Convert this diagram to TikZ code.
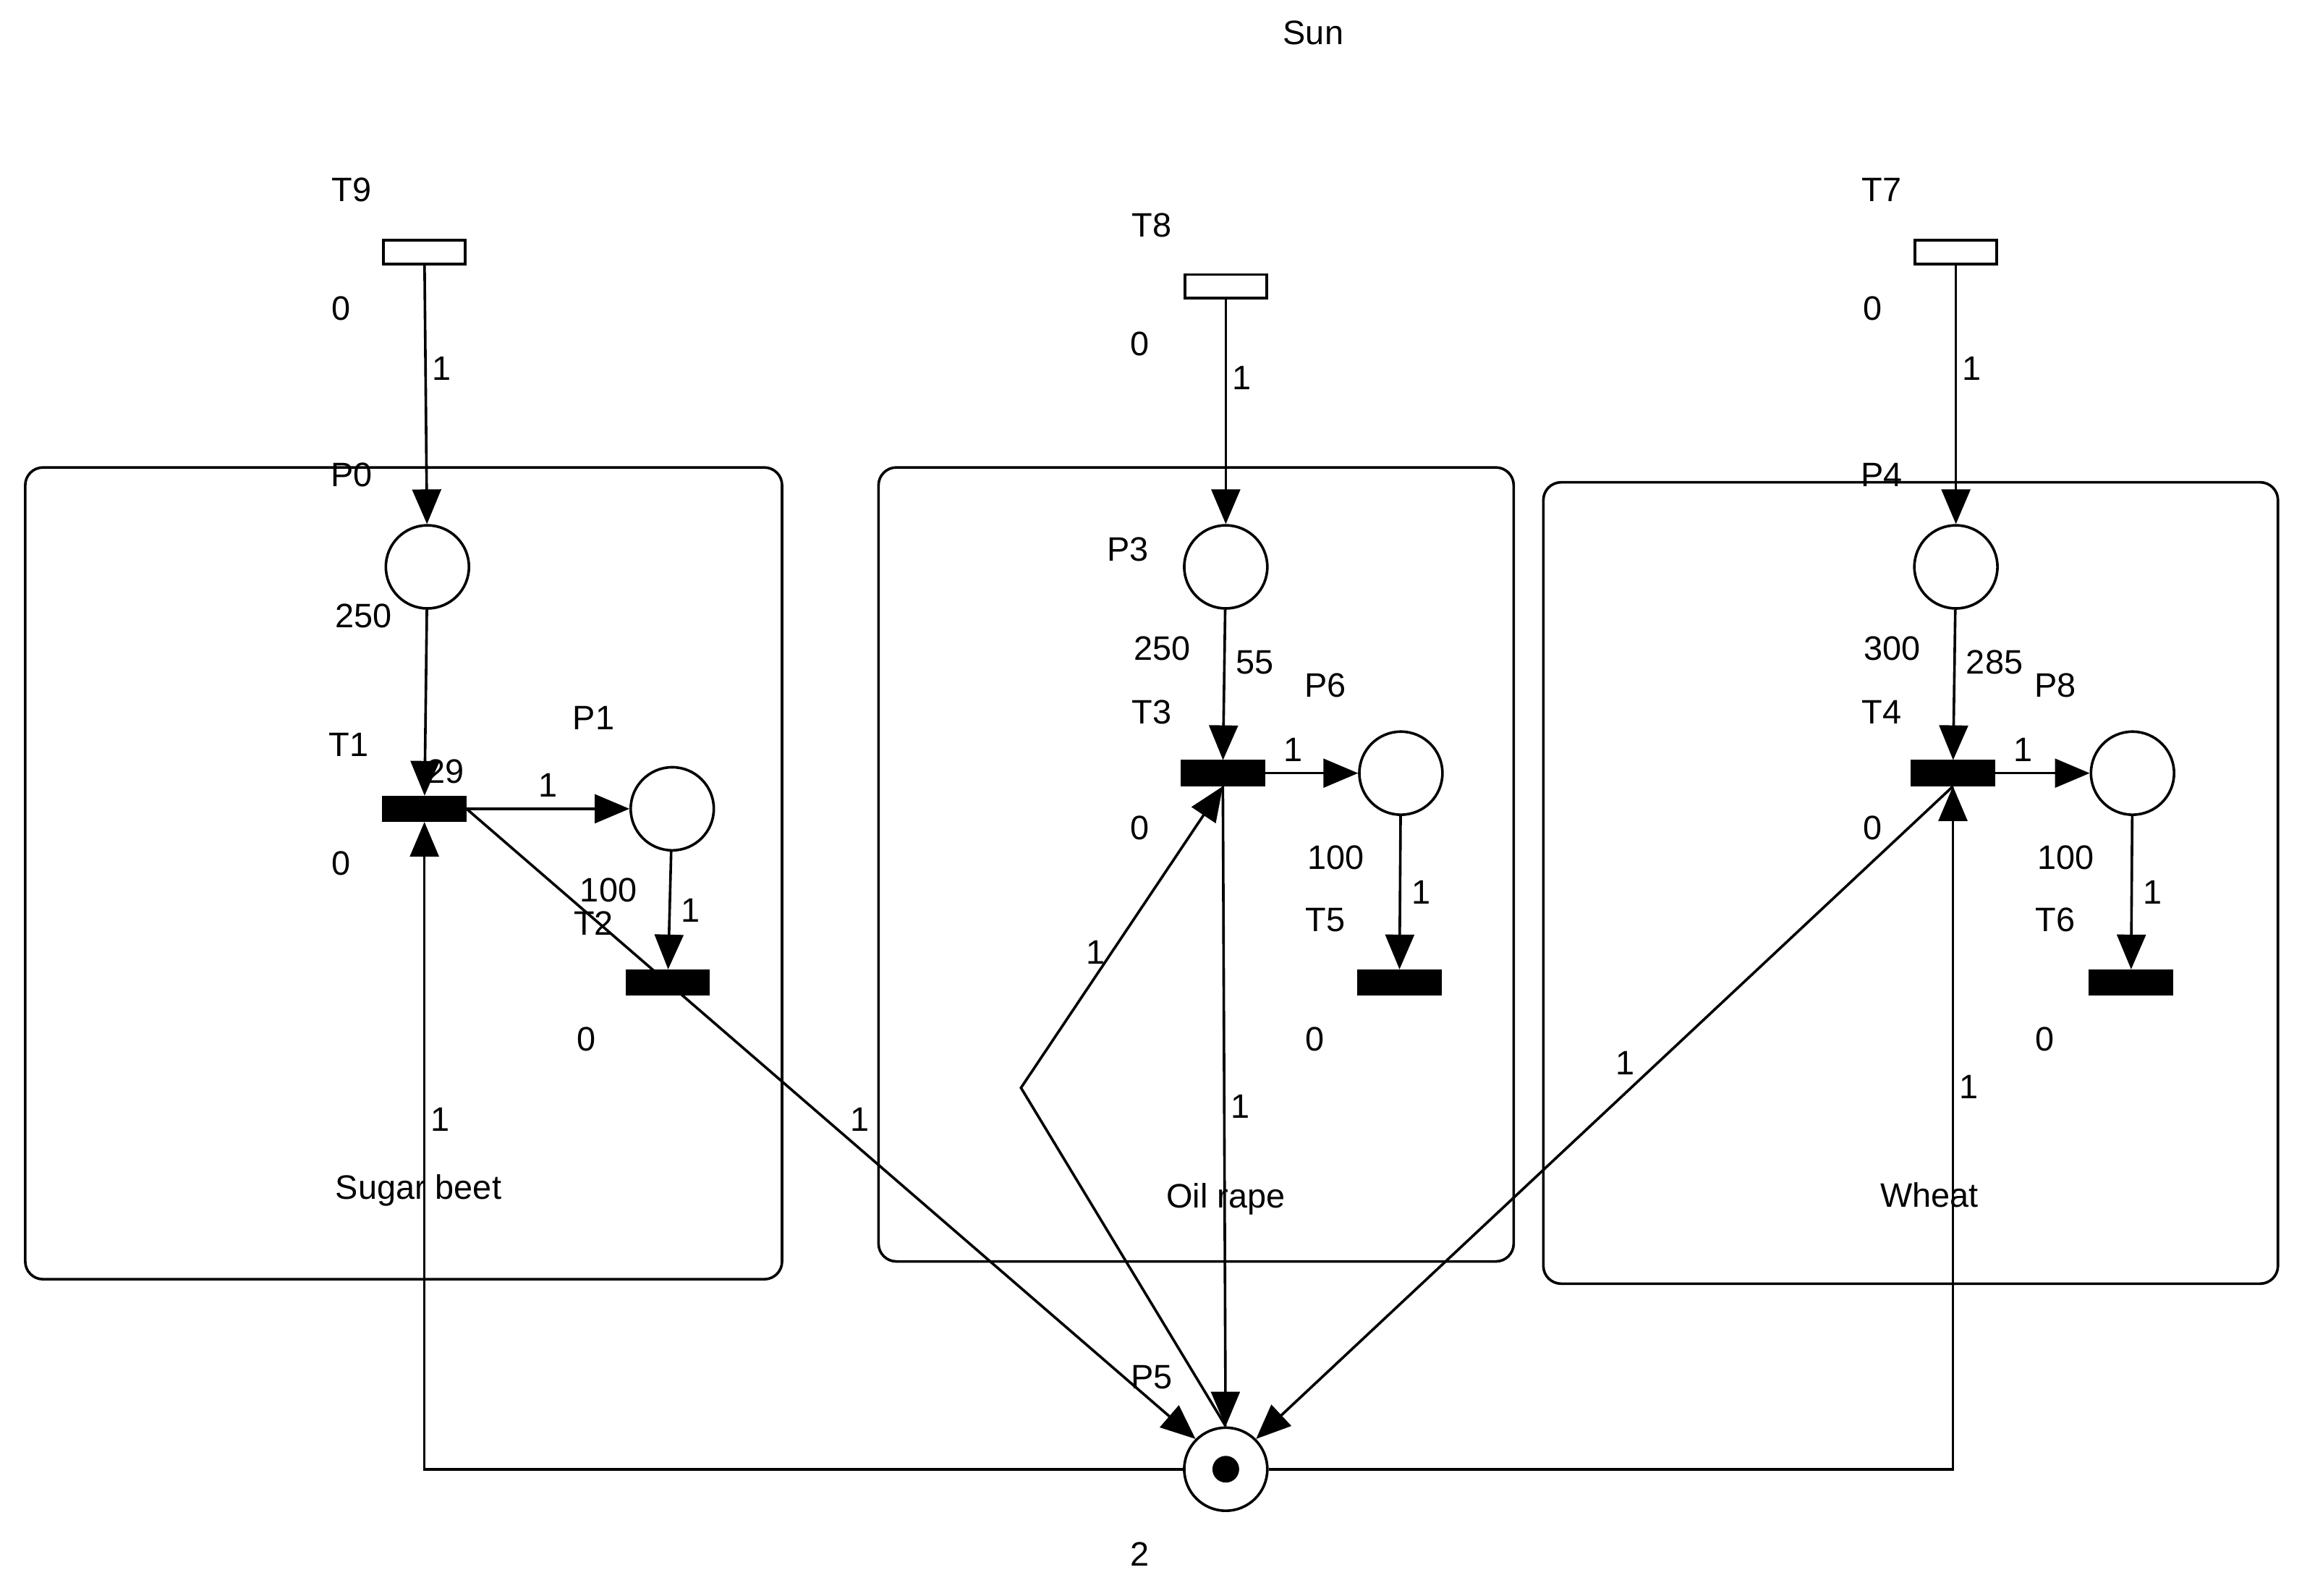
\documentclass[tikz,border=0pt]{standalone}
\usepackage{fontspec}
\setmainfont{Liberation Sans}
\usetikzlibrary{arrows}
\usetikzlibrary{positioning}
\tikzstyle{place} = [circle, minimum size=0.56cm, inner sep=0pt, draw=black, fill=white]
\tikzstyle{trans} = [rectangle, minimum width=0.55cm, minimum height=0.16cm, inner sep=0pt, draw=black, fill=black]
\tikzstyle{source} = [rectangle, minimum width=0.55cm, minimum height=0.16cm, inner sep=0pt, draw=black, fill=white]
\tikzstyle{group} = [rounded corners=0.12cm, draw=black]
\tikzstyle{lbl} = [inner sep=0pt, font=\fontsize{6.5}{8}\selectfont]
\tikzstyle{arrow} = [-triangle 45]
\begin{document}
\begin{tikzpicture}[line width=0.5pt]
    \useasboundingbox (0,0) rectangle (15.6,10.75);
    \node (sun) [lbl] at (8.85,10.53) {Sun};

    % groups
    \draw[group] (0.17,2.13) rectangle (5.27,7.60);
    \draw[group] (5.92,2.25) rectangle (10.20,7.60);
    \draw[group] (10.40,2.10) rectangle (15.35,7.50);
    \node (gsb) [lbl] at (2.82,2.73) {Sugar beet};
    \node (gor) [lbl] at (8.26,2.67) {Oil rape};
    \node (gwh) [lbl] at (13.00,2.70) {Wheat};

    % sugar beet
    \node (T9) [source] at (2.86,9.05) {};
    \node (P0) [place] at (2.88,6.93) {};
    \node (T1) [trans] at (2.86,5.30) {};
    \node (P1) [place] at (4.53,5.30) {};
    \node (T2) [trans] at (4.50,4.13) {};
    \node [lbl] at (2.37,9.47) {T9};
    \node [lbl] at (2.30,8.67) {0};
    \node [lbl] at (2.37,7.55) {P0};
    \node [lbl] at (2.45,6.60) {250};
    \node [lbl] at (2.35,5.73) {T1};
    \node [lbl] at (2.30,4.93) {0};
    \node [lbl] at (4.00,5.91) {P1};
    \node [lbl] at (4.10,4.75) {100};
    \node [lbl] at (4.00,4.53) {T2};
    \node [lbl] at (3.95,3.75) {0};

    % oil rape
    \node (T8) [source] at (8.26,8.82) {};
    \node (P3) [place] at (8.26,6.93) {};
    \node (T3) [trans] at (8.24,5.54) {};
    \node (P6) [place] at (9.44,5.54) {};
    \node (T5) [trans] at (9.43,4.13) {};
    \node [lbl] at (7.76,9.23) {T8};
    \node [lbl] at (7.68,8.43) {0};
    \node [lbl] at (7.60,7.05) {P3};
    \node [lbl] at (7.83,6.38) {250};
    \node [lbl] at (7.76,5.95) {T3};
    \node [lbl] at (7.68,5.17) {0};
    \node [lbl] at (8.93,6.13) {P6};
    \node [lbl] at (9.00,4.97) {100};
    \node [lbl] at (8.93,4.55) {T5};
    \node [lbl] at (8.86,3.75) {0};

    % wheat
    \node (T7) [source] at (13.18,9.05) {};
    \node (P4) [place] at (13.18,6.93) {};
    \node (T4) [trans] at (13.16,5.54) {};
    \node (P8) [place] at (14.37,5.54) {};
    \node (T6) [trans] at (14.36,4.13) {};
    \node [lbl] at (12.68,9.47) {T7};
    \node [lbl] at (12.62,8.67) {0};
    \node [lbl] at (12.68,7.55) {P4};
    \node [lbl] at (12.75,6.38) {300};
    \node [lbl] at (12.68,5.95) {T4};
    \node [lbl] at (12.62,5.17) {0};
    \node [lbl] at (13.85,6.13) {P8};
    \node [lbl] at (13.92,4.97) {100};
    \node [lbl] at (13.85,4.55) {T6};
    \node [lbl] at (13.78,3.75) {0};

    % shared place
    \node (P5) [place] at (8.26,0.85) {};
    \fill (P5) circle (0.09);
    \node [lbl] at (7.76,1.47) {P5};
    \node [lbl] at (7.68,0.28) {2};
    \coordinate (bend) at (6.88,3.42);

    % arcs
    \draw[arrow] (T9) -- node[lbl, right=1pt, pos=0.4] {1} (P0);
    \draw[arrow] (P0) -- (T1);
    \node [lbl] at (3.00,5.55) {29};
    \draw[arrow] (T1) -- node[lbl, above=2pt] {1} (P1);
    \draw[arrow] (P1) -- node[lbl, right=2pt] {1} (T2);
    \draw[arrow] (T1.east) -- node[lbl, above right=1pt, pos=0.52] {1} (P5.north west);
    \draw[arrow] (P5.west) -| node[lbl, right=1pt, pos=0.77] {1} (T1.south);

    \draw[arrow] (T8) -- node[lbl, right=1pt, pos=0.35] {1} (P3);
    \draw[arrow] (P3) -- node[lbl, right=2pt, pos=0.35] {55} (T3);
    \draw[arrow] (T3) -- node[lbl, above=2pt, pos=0.3] {1} (P6);
    \draw[arrow] (P6) -- node[lbl, right=2pt] {1} (T5);
    \draw[arrow] (T3) -- node[lbl, right=1pt, pos=0.5] {1} (P5);
    \draw[arrow] (P5.north) -- (bend) -- node[lbl, left=1pt, pos=0.45] {1} (T3.south);

    \draw[arrow] (T7) -- node[lbl, right=1pt, pos=0.4] {1} (P4);
    \draw[arrow] (P4) -- node[lbl, right=2pt, pos=0.35] {285} (T4);
    \draw[arrow] (T4) -- node[lbl, above=2pt, pos=0.3] {1} (P8);
    \draw[arrow] (P8) -- node[lbl, right=2pt] {1} (T6);
    \draw[arrow] (T4.south) -- node[lbl, above left=1pt, pos=0.45] {1} (P5.north east);
    \draw[arrow] (P5.east) -| node[lbl, right=1pt, pos=0.78] {1} (T4.south);
\end{tikzpicture}
\end{document}
